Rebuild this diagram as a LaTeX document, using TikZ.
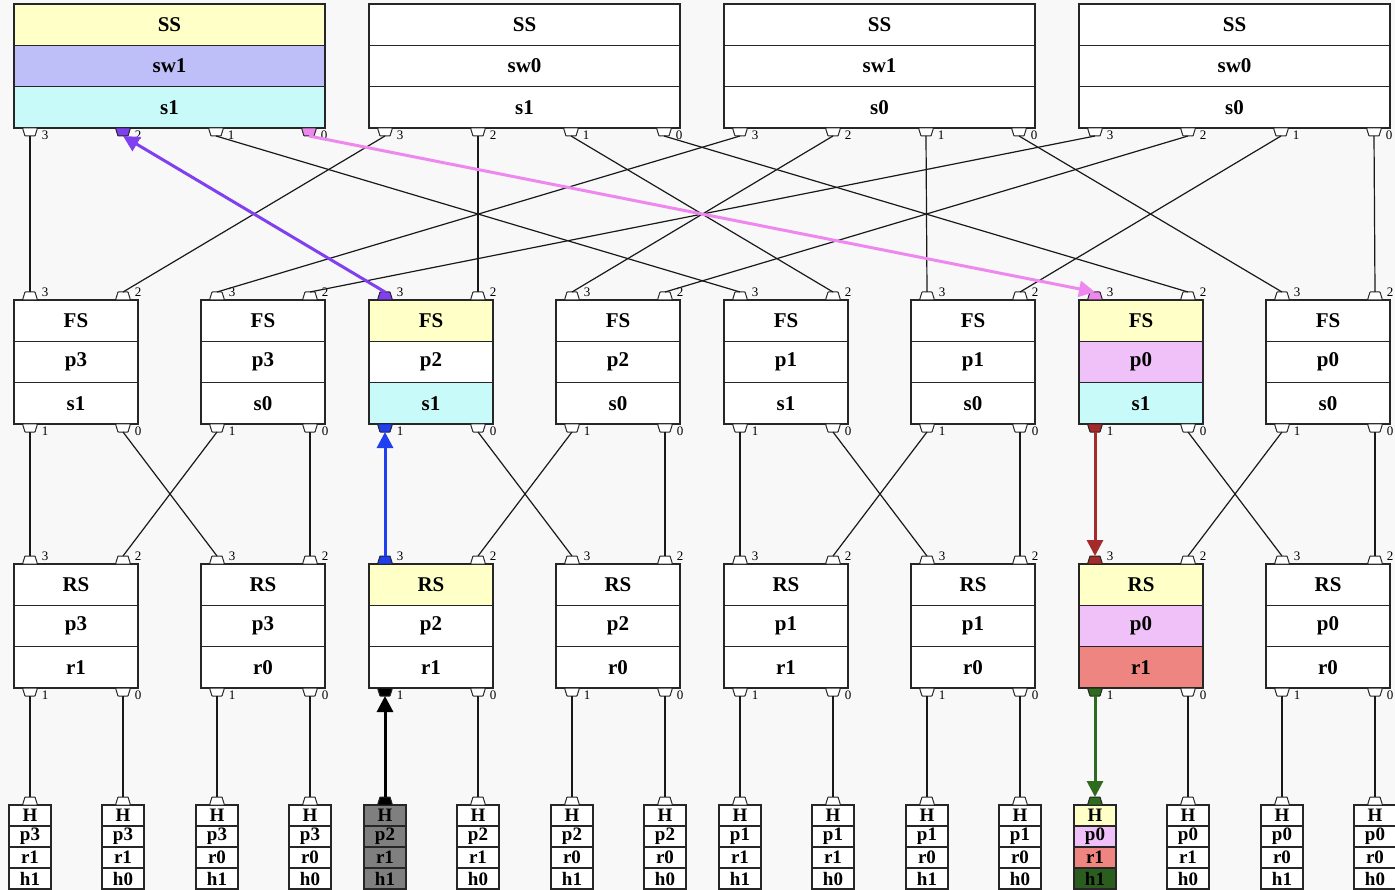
\documentclass[tikz,border=0pt]{standalone}
\usepackage{fontspec}
\setmainfont{Liberation Serif}
\usetikzlibrary{arrows.meta}
\definecolor{bg}{HTML}{F8F8F8}
\definecolor{cyel}{HTML}{FFFFC8}
\definecolor{clav}{HTML}{BEBEF8}
\definecolor{ccyan}{HTML}{C8FAFA}
\definecolor{cpink}{HTML}{F0C0F8}
\definecolor{csalmon}{HTML}{EE8580}
\definecolor{cgray}{HTML}{7F7F7F}
\definecolor{cdgreen}{HTML}{2B5E1E}
\definecolor{epurple}{HTML}{8040F0}
\definecolor{eviolet}{HTML}{EE88EE}
\definecolor{eblue}{HTML}{1F3FF0}
\definecolor{ered}{HTML}{A52A2A}
\definecolor{egreen}{HTML}{2E6B1E}
\newcommand\setpf[2]{\expandafter\def\csname pf@#1\endcsname{#2}}
\newcommand\getpf[1]{\ifcsname pf@#1\endcsname\edef\pf{\csname pf@#1\endcsname}\else\def\pf{white}\fi}
\newcommand\portup[4]{%
  \getpf{#1}%
  \draw[portshape, fill=\pf] (#2-7.5,#3) -- (#2-5,#3-8) -- (#2+5,#3-8) -- (#2+7.5,#3) -- cycle;
  \coordinate (#1) at (#2,#3-8);
  \node[plabel] at (#2+15,#3-8) {#4};}
\newcommand\portdown[4]{%
  \getpf{#1}%
  \draw[portshape, fill=\pf] (#2-7.5,#3) -- (#2-5,#3+8) -- (#2+5,#3+8) -- (#2+7.5,#3) -- cycle;
  \coordinate (#1) at (#2,#3+8);
  \node[plabel] at (#2+15,#3+7) {#4};}
\setpf{ss1p2}{epurple}\setpf{fs3p3}{epurple}
\setpf{ss1p0}{eviolet}\setpf{fs7p3}{eviolet}
\setpf{fs3p1}{eblue}\setpf{rs3p3}{eblue}
\setpf{fs7p1}{ered}\setpf{rs7p3}{ered}
\setpf{rs3p1}{black}\setpf{h5p}{black}
\setpf{rs7p1}{egreen}\setpf{h13p}{egreen}
\begin{document}
\begin{tikzpicture}[x=1pt,y=-1pt,
  cell/.style={draw=black!85, line width=1.2pt, inner sep=0pt, minimum height=41.33pt,
    font=\fontsize{21}{24}\selectfont\bfseries},
  hcell/.style={draw=black!85, line width=1.2pt, inner sep=0pt, minimum width=42pt,
    minimum height=21pt, font=\fontsize{19}{20}\selectfont\bfseries},
  portshape/.style={draw=black!85, line width=1pt, rounded corners=0.5pt},
  plabel/.style={font=\fontsize{13}{13}\selectfont, inner sep=0pt},
  link/.style={draw=black!90, line width=1.2pt},
  hl/.style={line width=3pt, -{Triangle[length=16pt,width=16pt]}},
]
\fill[bg] (0,0) rectangle (1395,890);
\useasboundingbox (0,0) rectangle (1395,890);

% spine switches
\foreach \i/\l/\tb/\tc/\ca/\cb/\cc in {1/14/sw1/s1/cyel/clav/ccyan, 2/369/sw0/s1/white/white/white,
    3/724/sw1/s0/white/white/white, 4/1079/sw0/s0/white/white/white}{
  \node[cell, fill=\ca, minimum width=311pt] (ss\i-a) at (\l+155.5,24.67) {SS};
  \node[cell, fill=\cb, minimum width=311pt] (ss\i-b) at (\l+155.5,66) {\tb};
  \node[cell, fill=\cc, minimum width=311pt] (ss\i-c) at (\l+155.5,107.33) {\tc};
  \portdown{ss\i p3}{\l+16}{128}{3}
  \portdown{ss\i p2}{\l+109}{128}{2}
  \portdown{ss\i p1}{\l+202}{128}{1}
  \portdown{ss\i p0}{\l+295}{128}{0}
}

% fabric switches
\foreach \i/\l/\tb/\tc/\ca/\cb/\cc in {1/14/p3/s1/white/white/white, 2/201/p3/s0/white/white/white,
    3/369/p2/s1/cyel/white/ccyan, 4/556/p2/s0/white/white/white,
    5/724/p1/s1/white/white/white, 6/911/p1/s0/white/white/white,
    7/1079/p0/s1/cyel/cpink/ccyan, 8/1266/p0/s0/white/white/white}{
  \node[cell, fill=\ca, minimum width=124pt] (fs\i-a) at (\l+62,320.67) {FS};
  \node[cell, fill=\cb, minimum width=124pt] (fs\i-b) at (\l+62,362) {\tb};
  \node[cell, fill=\cc, minimum width=124pt] (fs\i-c) at (\l+62,403.33) {\tc};
  \portup{fs\i p3}{\l+16}{300}{3}
  \portup{fs\i p2}{\l+109}{300}{2}
  \portdown{fs\i p1}{\l+16}{424}{1}
  \portdown{fs\i p0}{\l+109}{424}{0}
}

% rack switches
\foreach \i/\l/\tb/\tc/\ca/\cb/\cc in {1/14/p3/r1/white/white/white, 2/201/p3/r0/white/white/white,
    3/369/p2/r1/cyel/white/white, 4/556/p2/r0/white/white/white,
    5/724/p1/r1/white/white/white, 6/911/p1/r0/white/white/white,
    7/1079/p0/r1/cyel/cpink/csalmon, 8/1266/p0/r0/white/white/white}{
  \node[cell, fill=\ca, minimum width=124pt] (rs\i-a) at (\l+62,584.67) {RS};
  \node[cell, fill=\cb, minimum width=124pt] (rs\i-b) at (\l+62,626) {\tb};
  \node[cell, fill=\cc, minimum width=124pt] (rs\i-c) at (\l+62,667.33) {\tc};
  \portup{rs\i p3}{\l+16}{564}{3}
  \portup{rs\i p2}{\l+109}{564}{2}
  \portdown{rs\i p1}{\l+16}{688}{1}
  \portdown{rs\i p0}{\l+109}{688}{0}
}

% hosts
\foreach \i/\x/\tb/\tc/\td/\ca/\cb/\cc/\cd in {
    1/30/p3/r1/h1/white/white/white/white, 2/123/p3/r1/h0/white/white/white/white,
    3/217/p3/r0/h1/white/white/white/white, 4/310/p3/r0/h0/white/white/white/white,
    5/385/p2/r1/h1/cgray/cgray/cgray/cgray, 6/478/p2/r1/h0/white/white/white/white,
    7/572/p2/r0/h1/white/white/white/white, 8/665/p2/r0/h0/white/white/white/white,
    9/740/p1/r1/h1/white/white/white/white, 10/833/p1/r1/h0/white/white/white/white,
    11/927/p1/r0/h1/white/white/white/white, 12/1020/p1/r0/h0/white/white/white/white,
    13/1095/p0/r1/h1/cyel/cpink/csalmon/cdgreen, 14/1188/p0/r1/h0/white/white/white/white,
    15/1282/p0/r0/h1/white/white/white/white, 16/1375/p0/r0/h0/white/white/white/white}{
  \node[hcell, fill=\ca] (h\i-a) at (\x,815.5) {H};
  \node[hcell, fill=\cb] (h\i-b) at (\x,836.5) {\tb};
  \node[hcell, fill=\cc] (h\i-c) at (\x,857.5) {\tc};
  \node[hcell, fill=\cd] (h\i-d) at (\x,878.5) {\td};
  \portup{h\i p}{\x}{805}{}
}

% links spine -> fabric
\foreach \a/\b in {ss1p3/fs1p3, ss1p1/fs5p3,
    ss2p3/fs1p2, ss2p2/fs3p2, ss2p1/fs5p2, ss2p0/fs7p2,
    ss3p3/fs2p3, ss3p2/fs4p3, ss3p1/fs6p3, ss3p0/fs8p3,
    ss4p3/fs2p2, ss4p2/fs4p2, ss4p1/fs6p2, ss4p0/fs8p2}
  \draw[link] (\a) -- (\b);

% links fabric -> rack
\foreach \a/\b in {fs1p1/rs1p3, fs1p0/rs2p3, fs2p1/rs1p2, fs2p0/rs2p2,
    fs3p0/rs4p3, fs4p1/rs3p2, fs4p0/rs4p2,
    fs5p1/rs5p3, fs5p0/rs6p3, fs6p1/rs5p2, fs6p0/rs6p2,
    fs7p0/rs8p3, fs8p1/rs7p2, fs8p0/rs8p2}
  \draw[link] (\a) -- (\b);

% links rack -> host
\foreach \a/\b in {rs1p1/h1p, rs1p0/h2p, rs2p1/h3p, rs2p0/h4p,
    rs3p0/h6p, rs4p1/h7p, rs4p0/h8p,
    rs5p1/h9p, rs5p0/h10p, rs6p1/h11p, rs6p0/h12p,
    rs7p0/h14p, rs8p1/h15p, rs8p0/h16p}
  \draw[link] (\a) -- (\b);

% highlighted path
\draw[hl, black] (h5p) -- (rs3p1);
\draw[hl, eblue] (rs3p3) -- (fs3p1);
\draw[hl, epurple] (fs3p3) -- (ss1p2);
\draw[hl, eviolet] (ss1p0) -- (fs7p3);
\draw[hl, ered] (fs7p1) -- (rs7p3);
\draw[hl, egreen] (rs7p1) -- (h13p);
\end{tikzpicture}
\end{document}
